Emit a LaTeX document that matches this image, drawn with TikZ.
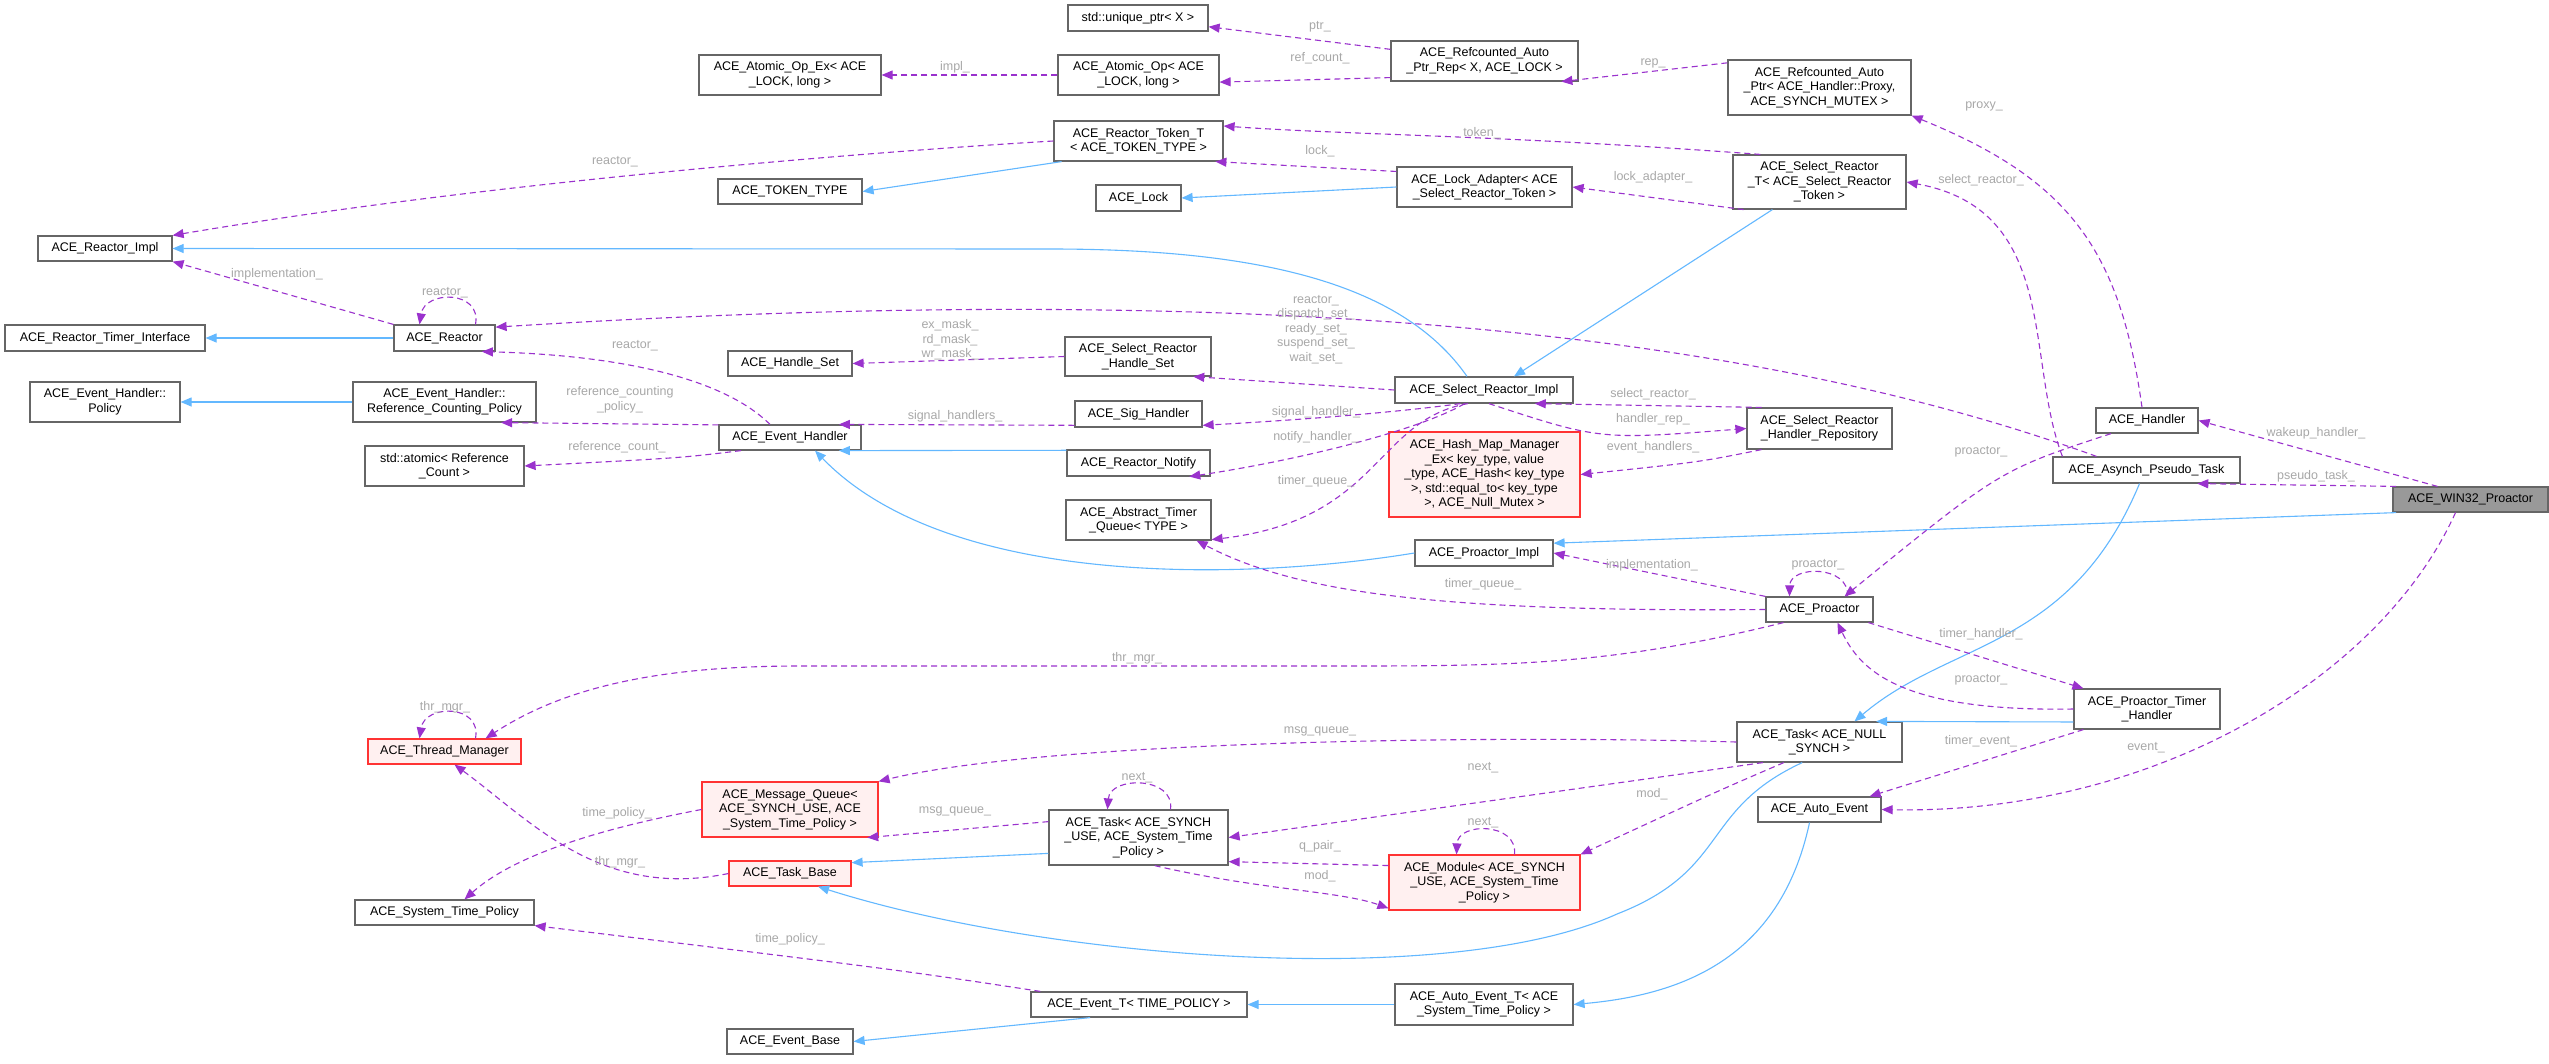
\documentclass[tikz,border=0pt]{standalone}
\usepackage{fontspec}
\setmainfont{Liberation Sans}
\usetikzlibrary{arrows.meta}
\definecolor{dep}{HTML}{9A32CD}
\definecolor{inh}{HTML}{63B8FF}
\definecolor{lblc}{HTML}{A8A8A8}
\definecolor{bord}{HTML}{666666}
\tikzset{
 box/.style={draw=bord,line width=1.2pt,fill=white,inner sep=0pt,align=center,font=\fontsize{12.5}{14.5}\selectfont},
 redbox/.style={draw=red!80!white,fill={rgb,255:red,255;green,240;blue,240}},
 graybox/.style={fill={rgb,255:red,153;green,153;blue,153}},
 depl/.style={draw=dep,line width=1.1pt,dash pattern=on 6pt off 4pt,-{Triangle[length=11pt,width=9pt]}},
 inhl/.style={draw=inh,line width=1.1pt,-{Triangle[length=11pt,width=9pt]}},
 lbl/.style={text=lblc,font=\fontsize{12.5}{14.5}\selectfont,align=center,inner sep=0pt}
}
\newcommand\B[7][]{\pgfmathsetmacro\bw{#5-#3}\pgfmathsetmacro\bh{#6-#4}%
 \node[box,#1,minimum width=\bw pt,minimum height=\bh pt] (#2) at ({(#3+#5)/2},{(#4+#6)/2}) {#7};}
\newcommand\Lb[3]{\node[lbl] at (#1,#2) {#3};}
\begin{document}
\begin{tikzpicture}[x=1pt,y=-1pt]
\useasboundingbox[fill=white] (0,0) rectangle (2549,1063);
% nodes
\B{uptr}{1068}{5}{1208}{31}{std::unique\_ptr< X >}
\B{aopex}{699}{55}{881}{95}{ACE\_Atomic\_Op\_Ex< ACE\\\_LOCK, long >}
\B{aop}{1058}{55}{1219}{95}{ACE\_Atomic\_Op< ACE\\\_LOCK, long >}
\B{rapr}{1391}{41}{1578}{81}{ACE\_Refcounted\_Auto\\\_Ptr\_Rep< X, ACE\_LOCK >}
\B{rap}{1728}{60}{1911}{115}{ACE\_Refcounted\_Auto\\\_Ptr< ACE\_Handler::Proxy,\\ACE\_SYNCH\_MUTEX >}
\B{rtt}{1054}{121}{1223}{161}{ACE\_Reactor\_Token\_T\\< ACE\_TOKEN\_TYPE >}
\B{tt}{718}{179}{862}{204}{ACE\_TOKEN\_TYPE}
\B{lock}{1096}{185}{1181}{211}{ACE\_Lock}
\B{la}{1397}{167}{1572}{207}{ACE\_Lock\_Adapter< ACE\\\_Select\_Reactor\_Token >}
\B{srt}{1733}{155}{1906}{209}{ACE\_Select\_Reactor\\\_T< ACE\_Select\_Reactor\\\_Token >}
\B{rimpl}{38}{236}{172}{261}{ACE\_Reactor\_Impl}
\B{rti}{5}{325}{205}{351}{ACE\_Reactor\_Timer\_Interface}
\B{reactor}{394}{325}{495}{351}{ACE\_Reactor}
\B{pol}{30}{382}{180}{422}{ACE\_Event\_Handler::\\Policy}
\B{rcp}{353}{382}{536}{422}{ACE\_Event\_Handler::\\Reference\_Counting\_Policy}
\B{atom}{365}{446}{524}{486}{std::atomic< Reference\\\_Count >}
\B{hset}{728}{351}{852}{376}{ACE\_Handle\_Set}
\B{eh}{719}{425}{861}{450}{ACE\_Event\_Handler}
\B{srhs}{1065}{337}{1211}{376}{ACE\_Select\_Reactor\\\_Handle\_Set}
\B{sri}{1395}{377}{1573}{403}{ACE\_Select\_Reactor\_Impl}
\B{sig}{1075}{401}{1202}{427}{ACE\_Sig\_Handler}
\B{rn}{1067}{450}{1210}{476}{ACE\_Reactor\_Notify}
\B{atq}{1066}{500}{1211}{540}{ACE\_Abstract\_Timer\\\_Queue< TYPE >}
\B[redbox]{hash}{1389}{432}{1580}{517}{ACE\_Hash\_Map\_Manager\\\_Ex< key\_type, value\\\_type, ACE\_Hash< key\_type\\>, std::equal\_to< key\_type\\>, ACE\_Null\_Mutex >}
\B{srhr}{1747}{408}{1892}{449}{ACE\_Select\_Reactor\\\_Handler\_Repository}
\B{handler}{2096}{408}{2198}{433}{ACE\_Handler}
\B{apt}{2053}{457}{2240}{483}{ACE\_Asynch\_Pseudo\_Task}
\B[graybox]{win}{2393}{487}{2548}{512}{ACE\_WIN32\_Proactor}
\B{pimpl}{1415}{540}{1553}{566}{ACE\_Proactor\_Impl}
\B{proactor}{1766}{597}{1873}{622}{ACE\_Proactor}
\B{pth}{2074}{689}{2220}{729}{ACE\_Proactor\_Timer\\\_Handler}
\B{tns}{1737}{722}{1902}{762}{ACE\_Task< ACE\_NULL\\\_SYNCH >}
\B{autoev}{1758}{797}{1881}{822}{ACE\_Auto\_Event}
\B[redbox]{tm}{368}{739}{521}{764}{ACE\_Thread\_Manager}
\B[redbox]{mq}{702}{782}{878}{837}{ACE\_Message\_Queue<\\ACE\_SYNCH\_USE, ACE\\\_System\_Time\_Policy >}
\B[redbox]{tb}{729}{861}{851}{886}{ACE\_Task\_Base}
\B{stp}{355}{900}{534}{925}{ACE\_System\_Time\_Policy}
\B{eb}{727}{1029}{853}{1054}{ACE\_Event\_Base}
\B{tsu}{1049}{810}{1228}{865}{ACE\_Task< ACE\_SYNCH\\\_USE, ACE\_System\_Time\\\_Policy >}
\B[redbox]{mod}{1389}{855}{1580}{910}{ACE\_Module< ACE\_SYNCH\\\_USE, ACE\_System\_Time\\\_Policy >}
\B{et}{1031}{992}{1247}{1017}{ACE\_Event\_T< TIME\_POLICY >}
\B{aet}{1395}{984}{1573}{1025}{ACE\_Auto\_Event\_T< ACE\\\_System\_Time\_Policy >}
% inheritance
\draw[inhl] (rtt.-165) -- (tt.east);
\draw[inhl] (la.west) -- (lock.east);
\draw[inhl] ([xshift=-17pt]sri.north) .. controls (1400,280) and (1250,249) .. (1050,249) -- (rimpl.east);
\draw[inhl] ([xshift=40pt]srt.south west) -- ([xshift=30pt]sri.north);
\draw[inhl] (reactor.west) -- (rti.east);
\draw[inhl] (rcp.west) -- (pol.east);
\draw[inhl] (rn.170) -- (eh.-15);
\draw[inhl] (pimpl.west) .. controls (1250,580) and (950,590) .. ([xshift=25pt]eh.south);
\draw[inhl] (win.190) -- (pimpl.8);
\draw[inhl] ([xshift=-7pt]apt.south) .. controls (2070,650) and (1950,640) .. ([xshift=35pt]tns.north);
\draw[inhl] (pth.-170) -- (tns.20);
\draw[inhl] (tns.-130) .. controls (1700,810) and (1730,870) .. (1617,914) .. controls (1450,990) and (1050,960) .. (tb.-25);
\draw[inhl] (tsu.-170) -- (tb.10);
\draw[inhl] ([xshift=-10pt]autoev.south) .. controls (1780,960) and (1680,995) .. (aet.east);
\draw[inhl] (aet.west) -- (et.east);
\draw[inhl] (et.-165) -- (eb.east);
% dependencies
\draw[depl] (rapr) -- (uptr); \Lb{1320}{27}{ptr\_}
\draw[depl] (rapr.-170) -- (aop.-5); \Lb{1320}{58}{ref\_count\_}
\draw[depl] (aop) -- (aopex); \Lb{955}{67}{impl\_}
\draw[depl] (rap.165) -- (rapr.-15); \Lb{1653}{63}{rep\_}
\draw[depl] (srt.155) .. controls (1500,135) and (1350,135) .. (rtt.10); \Lb{1482}{133}{token\_}
\draw[depl] (la.170) -- (rtt.-15); \Lb{1320}{151}{lock\_}
\draw[depl] (srt.-160) -- (la.east); \Lb{1653}{177}{lock\_adapter\_}
\draw[depl] (rtt.west) .. controls (900,150) and (500,180) .. (rimpl.north east); \Lb{615}{162}{reactor\_}
\draw[depl] (reactor.north west) -- (rimpl.south east); \Lb{277}{274}{implementation\_}
\draw[depl] ([xshift=31pt]reactor.north) .. controls (482,290) and (425,290) .. ([xshift=-25pt]reactor.north); \Lb{445}{293}{reactor\_}
\draw[depl] ([xshift=-20pt]eh.north) .. controls (720,375) and (610,355) .. (reactor.-20); \Lb{635}{346}{reactor\_}
\draw[depl] ([xshift=-50pt]apt.north) .. controls (1750,330) and (1250,280) .. (reactor.12); \Lb{1316}{301}{reactor\_}
\draw[depl] (eh.170) -- (rcp.-20); \Lb{620}{400}{reference\_counting\\\_policy\_}
\draw[depl] (eh.195) .. controls (680,458) .. (atom.east); \Lb{617}{447}{reference\_count\_}
\draw[depl] (srhs.west) -- (hset.east); \Lb{950}{340}{ex\_mask\_\\rd\_mask\_\\wr\_mask\_}
\draw[depl] (sri.west) -- (srhs.-20); \Lb{1316}{336}{dispatch\_set\_\\ready\_set\_\\suspend\_set\_\\wait\_set\_}
\draw[depl] (sig.190) -- (eh.15); \Lb{955}{416}{signal\_handlers\_}
\draw[depl] (sri.-150) .. controls (1400,412) and (1300,420) .. (sig.-10); \Lb{1316}{412}{signal\_handler\_}
\draw[depl] (sri.-145) .. controls (1420,430) and (1300,460) .. (rn.-15); \Lb{1316}{437}{notify\_handler\_}
\draw[depl] (sri.-140) .. controls (1375,420) and (1380,520) .. (atq.-15); \Lb{1316}{481}{timer\_queue\_}
\draw[depl] (srhr.160) -- (sri.-15); \Lb{1653}{394}{select\_reactor\_}
\draw[depl] (sri.-70) .. controls (1600,440) .. (srhr.west); \Lb{1653}{419}{handler\_rep\_}
\draw[depl] (srhr.200) .. controls (1700,462) .. (hash.east); \Lb{1653}{447}{event\_handlers\_}
\draw[depl] ([xshift=10pt]apt.north west) .. controls (2025,360) and (2060,210) .. (srt.east); \Lb{1981}{180}{select\_reactor\_}
\draw[depl] ([xshift=-5pt]handler.north) .. controls (2120,250) and (2070,180) .. (rap.south east); \Lb{1984}{106}{proxy\_}
\draw[depl] ([xshift=-33pt]win.north) -- (handler.east); \Lb{2316}{433}{wakeup\_handler\_}
\draw[depl] (win.170) -- (apt.-15); \Lb{2316}{476}{pseudo\_task\_}
\draw[depl] (handler.200) .. controls (2000,470) .. ([xshift=25pt]proactor.north); \Lb{1981}{452}{proactor\_}
\draw[depl] ([xshift=28pt]proactor.north) .. controls (1850,565) and (1790,565) .. ([xshift=-30pt]proactor.north); \Lb{1818}{565}{proactor\_}
\draw[depl] (proactor.north west) -- (pimpl.east); \Lb{1652}{565}{implementation\_}
\draw[depl] (proactor.west) .. controls (1450,612) and (1300,595) .. ([xshift=-15pt]atq.south east); \Lb{1483}{584}{timer\_queue\_}
\draw[depl] (proactor.200) .. controls (1600,668) and (1500,666) .. (1300,666) -- (800,666) .. controls (650,666) and (560,690) .. ([xshift=-36pt]tm.north east); \Lb{1137}{658}{thr\_mgr\_}
\draw[depl] ([xshift=31pt]tm.north) .. controls (482,704) and (425,704) .. ([xshift=-25pt]tm.north); \Lb{445}{707}{thr\_mgr\_}
\draw[depl] (proactor.-15) -- ([xshift=10pt]pth.north west); \Lb{1981}{634}{timer\_handler\_}
\draw[depl] (pth.west) .. controls (1900,712) and (1860,670) .. ([xshift=18pt]proactor.south); \Lb{1981}{680}{proactor\_}
\draw[depl] ([xshift=10pt]pth.south west) -- ([xshift=-12pt]autoev.north east); \Lb{1981}{741}{timer\_event\_}
\draw[depl] ([xshift=-15pt]win.south) .. controls (2380,680) and (2150,815) .. (autoev.east); \Lb{2146}{748}{event\_}
\draw[depl] (tns.west) .. controls (1500,735) and (1050,740) .. (mq.north east); \Lb{1320}{731}{msg\_queue\_}
\draw[depl] (tns.200) -- (tsu.east); \Lb{1483}{768}{next\_}
\draw[depl] (tns.-150) .. controls (1720,790) .. (mod.north east); \Lb{1652}{794}{mod\_}
\draw[depl] (tsu.170) -- (mq.-20); \Lb{955}{811}{msg\_queue\_}
\draw[depl] ([xshift=32pt]tsu.north) .. controls (1175,776) and (1110,776) .. ([xshift=-31pt]tsu.north); \Lb{1137}{778}{next\_}
\draw[depl] (mod.170) -- (tsu.-15); \Lb{1320}{846}{q\_pair\_}
\draw[depl] (tsu.-60) .. controls (1260,890) and (1340,891) .. (mod.-165); \Lb{1320}{876}{mod\_}
\draw[depl] ([xshift=30pt]mod.north) .. controls (1518,822) and (1458,822) .. ([xshift=-28pt]mod.north); \Lb{1483}{823}{next\_}
\draw[depl] (mq.west) .. controls (620,825) and (520,850) .. ([xshift=20pt]stp.north); \Lb{617}{813}{time\_policy\_}
\draw[depl] (tb.west) .. controls (600,900) and (530,820) .. ([xshift=10pt]tm.south); \Lb{620}{862}{thr\_mgr\_}
\draw[depl] ([xshift=10pt]et.north west) .. controls (900,970) .. (stp.south east); \Lb{790}{939}{time\_policy\_}
\end{tikzpicture}
\end{document}
